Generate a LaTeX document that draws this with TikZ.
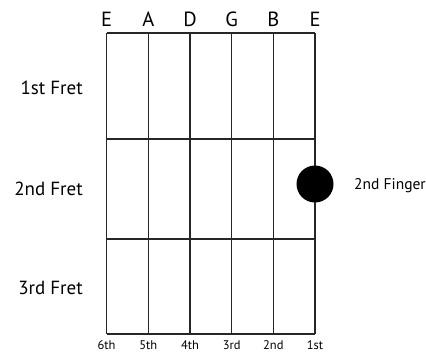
\documentclass[tikz,border=0pt]{standalone}
\usepackage{fontspec}
\setmainfont{PT Sans}
\usetikzlibrary{calc}
\tikzset{
  grid line/.style={
    line width=1.2pt,
    color=black!85
  },
  string label/.style={
    font=\fontsize{20.5}{20.5}\selectfont,
    inner sep=0pt
  },
  fret label/.style={
    font=\fontsize{19}{19}\selectfont,
    anchor=east,
    inner sep=0pt
  },
  number label/.style={
    font=\fontsize{12.5}{12.5}\selectfont,
    inner sep=0pt
  },
  finger dot/.style={
    circle,
    fill=black,
    inner sep=0pt,
    minimum size=37pt
  },
  finger label/.style={
    font=\fontsize{15.5}{15.5}\selectfont,
    anchor=west,
    inner sep=0pt
  }
}

\begin{document}
\begin{tikzpicture}[x=1pt, y=-1pt]

  \useasboundingbox (0,0) rectangle (426,354);

  %% ---- 竖线：六根弦 ----
  \foreach \i/\x in {6/106.5, 5/148.3, 4/190, 3/231.7, 2/273.3, 1/315} {
    \coordinate (t\i) at (\x,33);
    \coordinate (b\i) at (\x,334);
    \draw[grid line] (t\i) -- (b\i);
  }

  %% ---- 横线：琴枕与品丝 ----
  \foreach \n/\y in {0/33, 1/139, 2/239, 3/334} {
    \coordinate (fl\n) at (106.5,\y);
    \coordinate (fr\n) at (315,\y);
    \draw[grid line] (fl\n) -- (fr\n);
  }

  %% ---- 顶部弦名 ----
  \node[string label] (nE6) at (106.5,19.5) {E};
  \node[string label] (nA)  at (148.3,19.5) {A};
  \node[string label] (nD)  at (190,19.5)   {D};
  \node[string label] (nG)  at (231.7,19.5) {G};
  \node[string label] (nB)  at (273.3,19.5) {B};
  \node[string label] (nE1) at (315,19.5)   {E};

  %% ---- 底部弦序 ----
  \node[number label] (o6) at (106.5,345.5) {6th};
  \node[number label] (o5) at (148.3,345.5) {5th};
  \node[number label] (o4) at (190,345.5)   {4th};
  \node[number label] (o3) at (231.7,345.5) {3rd};
  \node[number label] (o2) at (273.3,345.5) {2nd};
  \node[number label] (o1) at (315,345.5)   {1st};

  %% ---- 左侧品名 ----
  \node[fret label] (f1) at (83,88)  {1st Fret};
  \node[fret label] (f2) at (83,189) {2nd Fret};
  \node[fret label] (f3) at (83,288) {3rd Fret};

  %% ---- 手指位置 ----
  \node[finger dot] (dot) at (315,184) {};
  \node[finger label] (fing) at (354,186) {2nd Finger};

\end{tikzpicture}
\end{document}
